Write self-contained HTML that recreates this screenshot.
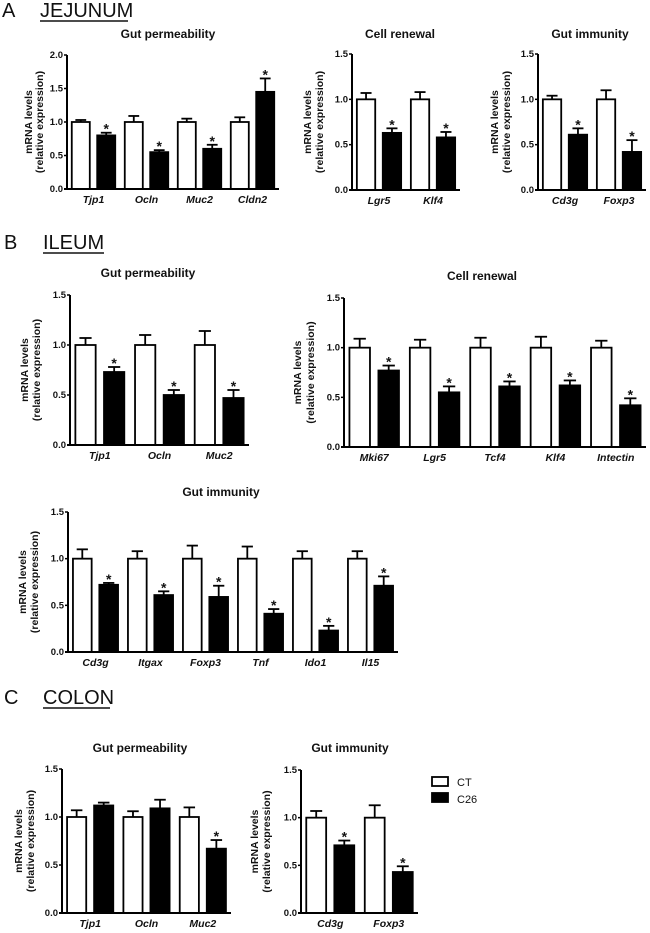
<!DOCTYPE html>
<html><head><meta charset="utf-8">
<style>
html,body{margin:0;padding:0;background:#fff;}
svg{display:block;font-family:"Liberation Sans",Arial,sans-serif;}
.hdr{font-size:20px;fill:#111;}
.ttl{font-size:12px;font-weight:bold;fill:#111;}
.tick{font-size:9.5px;font-weight:bold;fill:#111;}
.cat{font-size:10.5px;font-weight:bold;font-style:italic;fill:#111;}
.yt{font-size:10.5px;font-weight:bold;fill:#111;}
.star{font-size:14px;font-weight:bold;fill:#111;}
</style></head>
<body>
<svg id="fig" width="650" height="933" viewBox="0 0 650 933" xmlns="http://www.w3.org/2000/svg">
  <text class="hdr" x="2" y="17">A</text>
  <text class="hdr" x="40" y="17">JEJUNUM</text>
  <line x1="40" y1="21" x2="128" y2="21" stroke="#111" stroke-width="1.5"/>
  <text class="hdr" x="4" y="249">B</text>
  <text class="hdr" x="43" y="249">ILEUM</text>
  <line x1="43" y1="253" x2="104" y2="253" stroke="#111" stroke-width="1.5"/>
  <text class="hdr" x="4" y="704">C</text>
  <text class="hdr" x="43" y="704">COLON</text>
  <line x1="43" y1="708" x2="110" y2="708" stroke="#111" stroke-width="1.5"/>
  <g>
    <rect x="432" y="777" width="16" height="9" fill="#fff" stroke="#000" stroke-width="1.8"/>
    <text x="457" y="786" font-size="11" fill="#111">CT</text>
    <rect x="432" y="793" width="16" height="9" fill="#000" stroke="#000" stroke-width="1.8"/>
    <text x="457" y="803" font-size="11" fill="#111">C26</text>
  </g>
</svg>
<script>
// Panel A1: jejunum gut permeability
const a1Categories = ["Tjp1","Ocln","Muc2","Cldn2"];
const a1CT = [1,1,1,1];
const a1CTErr = [0.03,0.09,0.05,0.07];
const a1C26 = [0.80,0.55,0.60,1.45];
const a1C26Err = [0.04,0.03,0.06,0.20];
const a1Sig = [true,true,true,true];
const a1Ticks = ["0.0","0.5","1.0","1.5","2.0"];
// Panel A2: jejunum cell renewal
const a2Categories = ["Lgr5","Klf4"];
const a2CT = [1,1];
const a2CTErr = [0.07,0.08];
const a2C26 = [0.63,0.58];
const a2C26Err = [0.05,0.06];
const a2Sig = [true,true];
const a2Ticks = ["0.0","0.5","1.0","1.5"];
// Panel A3: jejunum gut immunity
const a3Categories = ["Cd3g","Foxp3"];
const a3CT = [1,1];
const a3CTErr = [0.04,0.10];
const a3C26 = [0.61,0.42];
const a3C26Err = [0.07,0.13];
const a3Sig = [true,true];
const a3Ticks = ["0.0","0.5","1.0","1.5"];
// Panel B1: ileum gut permeability
const b1Categories = ["Tjp1","Ocln","Muc2"];
const b1CT = [1,1,1];
const b1CTErr = [0.07,0.10,0.14];
const b1C26 = [0.73,0.50,0.47];
const b1C26Err = [0.05,0.05,0.08];
const b1Sig = [true,true,true];
const b1Ticks = ["0.0","0.5","1.0","1.5"];
// Panel B2: ileum cell renewal
const b2Categories = ["Mki67","Lgr5","Tcf4","Klf4","Intectin"];
const b2CT = [1,1,1,1,1];
const b2CTErr = [0.09,0.08,0.10,0.11,0.07];
const b2C26 = [0.77,0.55,0.61,0.62,0.42];
const b2C26Err = [0.05,0.06,0.05,0.05,0.07];
const b2Sig = [true,true,true,true,true];
const b2Ticks = ["0.0","0.5","1.0","1.5"];
// Panel B3: ileum gut immunity
const b3Categories = ["Cd3g","Itgax","Foxp3","Tnf","Ido1","Il15"];
const b3CT = [1,1,1,1,1,1];
const b3CTErr = [0.10,0.08,0.14,0.13,0.08,0.08];
const b3C26 = [0.72,0.61,0.59,0.41,0.23,0.71];
const b3C26Err = [0.02,0.04,0.12,0.05,0.05,0.10];
const b3Sig = [true,true,true,true,true,true];
const b3Ticks = ["0.0","0.5","1.0","1.5"];
// Panel C1: colon gut permeability
const c1Categories = ["Tjp1","Ocln","Muc2"];
const c1CT = [1,1,1];
const c1CTErr = [0.07,0.06,0.10];
const c1C26 = [1.12,1.09,0.67];
const c1C26Err = [0.03,0.09,0.09];
const c1Sig = [false,false,true];
const c1Ticks = ["0.0","0.5","1.0","1.5"];
// Panel C2: colon gut immunity
const c2Categories = ["Cd3g","Foxp3"];
const c2CT = [1,1];
const c2CTErr = [0.07,0.13];
const c2C26 = [0.71,0.43];
const c2C26Err = [0.05,0.06];
const c2Sig = [true,true];
const c2Ticks = ["0.0","0.5","1.0","1.5"];

const NS = "http://www.w3.org/2000/svg";
const svg = document.getElementById("fig");
function mk(tag, attrs, parent){
  const e = document.createElementNS(NS, tag);
  for (const k in attrs) e.setAttribute(k, attrs[k]);
  (parent||svg).appendChild(e);
  return e;
}

function panel(id, title, cats, ct, ctErr, c26, c26Err, sig, ticks, g){
  const grp = mk("g", {});
  
  
  const maxV = parseFloat(ticks[ticks.length-1]);
  const y = v => g.y0 - (v / maxV) * (g.y0 - g.yTop);
  const gw = (g.x1 - g.x0) / cats.length;
  const bw = gw * 0.34;
  const xCT = i => g.x0 + gw * i + gw * 0.09;
  const xC26 = i => g.x0 + gw * i + gw * 0.57;

  const t = mk("text", {class:"ttl", x:g.tx, y:g.ty, "text-anchor":"middle"}, grp);
  t.textContent = title;
  
  

  const yc = (g.y0 + g.yTop) / 2;
  const t1 = mk("text", {class:"yt", x:0, y:0, "text-anchor":"middle", transform:`translate(${g.x0 - g.o1},${yc}) rotate(-90)`}, grp);
  t1.textContent = "mRNA levels";
  
  
  const t2 = mk("text", {class:"yt", x:0, y:0, "text-anchor":"middle", transform:`translate(${g.x0 - g.o2},${yc}) rotate(-90)`}, grp);
  t2.textContent = "(relative expression)";
  
  

  ticks.forEach(tk => {
    const v = parseFloat(tk);
    const tl = mk("line", {x1:g.x0 - 3, x2:g.x0, y1:y(v), y2:y(v), stroke:"#000", "stroke-width":1.5}, grp);
    
    
    const tt = mk("text", {class:"tick", x:g.x0 - 4, y:y(v) + 3, "text-anchor":"end"}, grp);
    tt.textContent = tk;
    
    
  });

  function bar(x, v, err, fill, name){
    const r = mk("rect", {x:x, y:y(v), width:bw, height:g.y0 - y(v), fill:fill, stroke:"#000", "stroke-width":1.8}, grp);
    
    
    const cx = x + bw / 2;
    const e1 = mk("line", {x1:cx, x2:cx, y1:y(v), y2:y(v + err), stroke:"#000", "stroke-width":1.8}, grp);
    
    
    const e2 = mk("line", {x1:cx - bw * 0.3, x2:cx + bw * 0.3, y1:y(v + err), y2:y(v + err), stroke:"#000", "stroke-width":1.8}, grp);
    
    
  }

  cats.forEach((c, i) => {
    bar(xCT(i), ct[i], ctErr[i], "#fff", 'bar-ct-' + c.toLowerCase());
    bar(xC26(i), c26[i], c26Err[i], "#000", 'bar-c26-' + c.toLowerCase());
    if (sig[i]) {
      const s = mk("text", {class:"star", x:xC26(i) + bw / 2, y:y(c26[i] + c26Err[i]) + 1, "text-anchor":"middle"}, grp);
      s.textContent = "*";
      
      
    }
    const cl = mk("text", {class:"cat", x:g.x0 + gw * i + gw / 2, y:g.y0 + 14, "text-anchor":"middle"}, grp);
    cl.textContent = c;
    
    
  });

  const ax = mk("line", {x1:g.x0, x2:g.x0, y1:g.yTop, y2:g.y0, stroke:"#000", "stroke-width":2}, grp);
  
  
  const bx = mk("line", {x1:g.x0 - 3, x2:g.x1, y1:g.y0, y2:g.y0, stroke:"#000", "stroke-width":2}, grp);
  
  
}

panel("jejunum-permeability","Gut permeability",a1Categories,a1CT,a1CTErr,a1C26,a1C26Err,a1Sig,a1Ticks,
  {x0:67,x1:279,yTop:55,y0:189,tx:168,ty:38,o1:35,o2:24});
panel("jejunum-renewal","Cell renewal",a2Categories,a2CT,a2CTErr,a2C26,a2C26Err,a2Sig,a2Ticks,
  {x0:352,x1:460,yTop:54,y0:190,tx:400,ty:38,o1:41,o2:29});
panel("jejunum-immunity","Gut immunity",a3Categories,a3CT,a3CTErr,a3C26,a3C26Err,a3Sig,a3Ticks,
  {x0:538,x1:646,yTop:54,y0:190,tx:590,ty:38,o1:40,o2:28});
panel("ileum-permeability","Gut permeability",b1Categories,b1CT,b1CTErr,b1C26,b1C26Err,b1Sig,b1Ticks,
  {x0:70,x1:249,yTop:295,y0:445,tx:148,ty:277,o1:42,o2:30});
panel("ileum-renewal","Cell renewal",b2Categories,b2CT,b2CTErr,b2C26,b2C26Err,b2Sig,b2Ticks,
  {x0:344,x1:646,yTop:298,y0:447,tx:482,ty:280,o1:43,o2:30});
panel("ileum-immunity","Gut immunity",b3Categories,b3CT,b3CTErr,b3C26,b3C26Err,b3Sig,b3Ticks,
  {x0:68,x1:398,yTop:512,y0:652,tx:221,ty:496,o1:42,o2:30});
panel("colon-permeability","Gut permeability",c1Categories,c1CT,c1CTErr,c1C26,c1C26Err,c1Sig,c1Ticks,
  {x0:62,x1:231,yTop:769,y0:913,tx:140,ty:752,o1:40,o2:28});
panel("colon-immunity","Gut immunity",c2Categories,c2CT,c2CTErr,c2C26,c2C26Err,c2Sig,c2Ticks,
  {x0:301,x1:418,yTop:770,y0:913,tx:350,ty:752,o1:43,o2:31});
</script>
</body></html>
